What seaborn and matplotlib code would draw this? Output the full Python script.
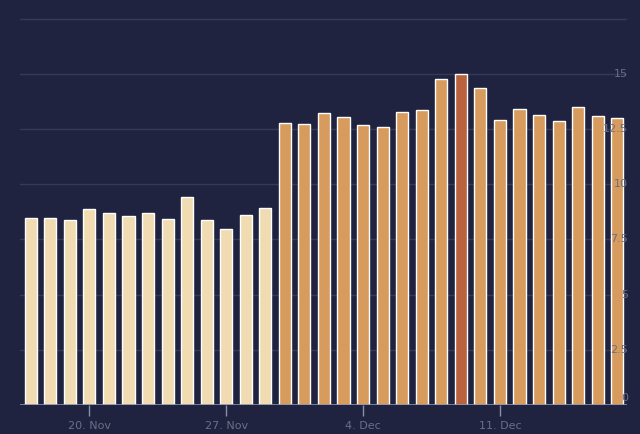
import pandas as pd
import matplotlib.pyplot as plt
import seaborn as sns

dates = pd.date_range('2023-11-17', '2023-12-17')
values = [8.47, 8.47, 8.38, 8.88, 8.7, 8.56, 8.7, 8.43, 9.42, 8.38, 7.97, 8.6, 8.93,
          12.78, 12.73, 13.23, 13.05, 12.69, 12.6, 13.28, 13.37, 14.77, 15.0, 14.36,
          12.91, 13.41, 13.14, 12.87, 13.5, 13.1, 13.0]
groups = ['light'] * 13 + ['orange'] * 9 + ['red'] + ['orange'] * 8
palette = {'light': '#fbdea8', 'orange': '#eb9b4a', 'red': '#cc5a2a'}

bg = '#1f2340'
df = pd.DataFrame({'date': dates, 'value': values, 'group': groups})
df['pos'] = range(len(df))

sns.set_style('dark')
fig = plt.figure(figsize=(6.4, 4.34), dpi=100, facecolor=bg)
ax = fig.add_axes([20 / 640, 29 / 434, 607 / 640, 405 / 434], facecolor=bg)

sns.barplot(data=df, x='pos', y='value', hue='group', palette=palette,
            dodge=False, legend=False, width=0.62, ax=ax, zorder=3)

ax.set_ylim(0, 18.35)
ax.set_xlim(-0.55, 30.5)
for v in [2.5, 5, 7.5, 10, 12.5, 15, 17.5]:
    ax.axhline(v, color='#363a58', lw=1, zorder=1)
    if v < 17:
        ax.text(30.55, v, f'{v:g}', color='#6b6f85', fontsize=8,
                ha='right', va='center', zorder=5)
ax.text(30.55, 0.1, '0', color='#6b6f85', fontsize=8, ha='right', va='bottom', zorder=5)
ax.axhline(0, color='#8a8fa8', lw=1.2, zorder=4)

tick_pos = [3, 10, 17, 24]
ax.set_xticks(tick_pos)
ax.set_xticklabels(['20. Nov', '27. Nov', '4. Dec', '11. Dec'])
ax.tick_params(axis='x', colors='#8a8fa8', labelcolor='#6b6f85', labelsize=8,
               length=8, width=1, direction='out', bottom=True)
ax.set_yticks([])
ax.set_xlabel('')
ax.set_ylabel('')
ax.grid(False)
for s in ax.spines.values():
    s.set_visible(False)

fig.savefig('out.png', dpi=100, facecolor=bg)
